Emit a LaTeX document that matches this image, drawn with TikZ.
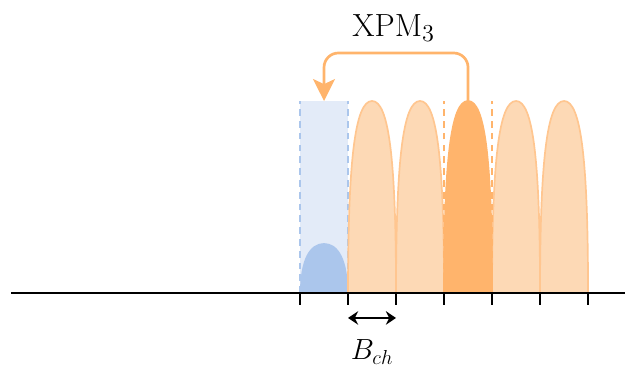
\documentclass[tikz,border=0pt]{standalone}
\usepackage{tikz}
\usetikzlibrary{arrows.meta, positioning, calc}
\definecolor{ch-blue}{HTML}{ABC6EC}
\definecolor{ch-blue-bg}{HTML}{E3EBF8}
\definecolor{ch-orange}{HTML}{FFB46C}
\definecolor{ch-peach}{HTML}{FDD9B5}
\definecolor{ch-edge}{HTML}{FFC690}
\newcommand{\lobe}[3]{%  \lobe{x}{fill}{draw}
  \fill[#2, draw=#3, line width=1pt] (#1,0)
    .. controls +(0,2.8) and +(-0.35,0) .. ++(0.5,4)
    .. controls +(0.35,0) and +(0,2.8) .. ++(0.5,-4) -- cycle;}

\begin{document}
\begin{tikzpicture}[
    guide/.style={dash pattern=on 4pt off 3pt, line width=1.4pt},
    xpmarrow/.style={-{Stealth[length=13pt, width=13pt, inset=3pt]},
      ch-orange, line width=1.6pt, rounded corners=0.3cm},
    bwarrow/.style={{Stealth[length=6pt, width=8pt]}-{Stealth[length=6pt, width=8pt]},
      line width=1.3pt}]
  \useasboundingbox (0,-1.667) rectangle (13.02,6.104);
  % ── channel under test (blue) ──
  \fill[ch-blue-bg] (6.25,0) rectangle (7.25,4);
  \draw[guide, ch-blue] (6.25,0) -- (6.25,4) (7.25,0) -- (7.25,4);
  \fill[ch-blue] (6.25,0) .. controls +(0,0.7) and +(-0.3,0) .. ++(0.5,1.04)
    .. controls +(0.3,0) and +(0,0.7) .. ++(0.5,-1.04) -- cycle;
  % ── neighbouring channels ──
  \foreach \x in {7.25, 8.25, 10.25, 11.25}
    \lobe{\x}{ch-peach}{ch-edge};
  \lobe{9.25}{ch-orange}{ch-orange}
  \draw[guide, ch-orange] (9.25,0) -- (9.25,4) (10.25,0) -- (10.25,4);
  % ── frequency axis + ticks ──
  \draw[line width=1.4pt] (0.23,0) -- (13.02,0);
  \foreach \i in {0,...,6} {
    \coordinate (t\i) at ({6.25+\i},0);
    \draw[line width=1.4pt] (t\i) -- ++(0,-0.25);
  }
  % ── XPM arrow ──
  \coordinate (src) at (9.75,4);
  \coordinate (dst) at (6.75,4);
  \node[font=\fontsize{19}{22}\selectfont] (xpm) at (8.2,5.52) {XPM$_3$};
  \draw[xpmarrow] (src) -- ++(0,1) -| (dst);
  % ── channel spacing ──
  \draw[bwarrow] ([yshift=-0.52cm]t1) -- ([yshift=-0.52cm]t2);
  \node[font=\fontsize{18}{21}\selectfont] (bch) at (7.75,-1.23) {$B_{ch}$};
\end{tikzpicture}
\end{document}
